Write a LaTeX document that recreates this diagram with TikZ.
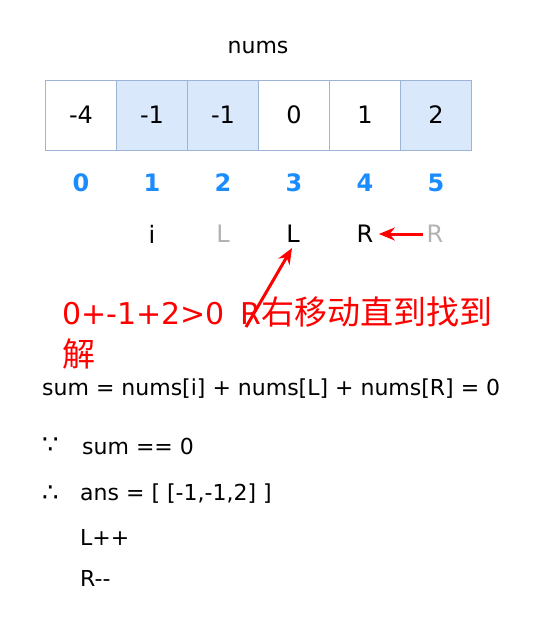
\documentclass[tikz,border=0pt]{standalone}
\usepackage{fontspec}
\setmainfont{DejaVu Sans}
\newfontfamily\cjk{Noto Sans CJK SC}
\usetikzlibrary{arrows.meta}
\definecolor{cellfill}{HTML}{DAE8FC}
\definecolor{celldraw}{HTML}{9DB4D6}
\definecolor{idxblue}{HTML}{1A8CFF}
\definecolor{oldgray}{HTML}{B3B3B3}
\definecolor{notered}{HTML}{FF0000}
\begin{document}
\begin{tikzpicture}
		[x=1pt,y=-1pt,
		cell/.style={draw=celldraw,fill=white,thick,
minimum width=71pt,minimum height=70pt,inner sep=0pt,font=\fontsize{24}{28}\selectfont},
		hcell/.style={cell,fill=cellfill},
		idx/.style={text=idxblue,font=\fontsize{24}{28}\selectfont\bfseries},
		ptr/.style={font=\fontsize{24}{28}\selectfont},
		oldptr/.style={ptr,text=oldgray},
		textstyle/.style={anchor=west,inner sep=0pt,font=\fontsize{22}{26}\selectfont},
		notestyle/.style={anchor=west,inner sep=0pt,text=notered,font=\fontsize{30}{40}\selectfont},
		movearrow/.style={-{Stealth[length=16pt,width=13pt]},notered,line width=3pt,shorten >=2pt}]
		\useasboundingbox (0,0) rectangle (557,635);
		\node at (258, 47) (title) [font=\fontsize{22}{26}\selectfont] {nums};
		% array cells
		\node at (81, 115) (c0) [cell] {-4};
		\node at (152, 115) (c1) [hcell] {-1};
		\node at (223, 115) (c2) [hcell] {-1};
		\node at (294, 115) (c3) [cell] {0};
		\node at (365, 115) (c4) [cell] {1};
		\node at (436, 115) (c5) [hcell] {2};
		% indices
		\node at (81, 183) (i0) [idx] {0};
		\node at (152, 183) (i1) [idx] {1};
		\node at (223, 183) (i2) [idx] {2};
		\node at (294, 183) (i3) [idx] {3};
		\node at (365, 183) (i4) [idx] {4};
		\node at (436, 183) (i5) [idx] {5};
		% pointers
		\node at (152, 234) (ptri) [ptr] {i};
		\node at (223, 234) (oldL) [oldptr] {L};
		\node at (293, 234) (ptrL) [ptr] {L};
		\node at (365, 234) (ptrR) [ptr] {R};
		\node at (435, 234) (oldR) [oldptr] {R};
		\draw[movearrow] (oldR) -- (ptrR);
		% note
		\node at (62, 312) (note1) [notestyle] {0+-1+2>0\hspace{16pt}R{\cjk\fontsize{33}{40}\selectfont 右移动直到找到}};
		\node at (62, 354) (note2) [notestyle] {\cjk\fontsize{33}{40}\selectfont 解};
		\coordinate (notetip) at (246, 327);
		\draw[movearrow] (notetip) -- (ptrL.south);
		% steps
		\node at (42, 389) (sum) [textstyle] {sum = nums[i] + nums[L] + nums[R] = 0};
		\node at (42, 446) (since) [textstyle,font=\fontsize{26}{28}\selectfont] {∵};
		\node at (82, 446) (cond) [textstyle] {sum == 0};
		\node at (42, 494) (hence) [textstyle,font=\fontsize{26}{28}\selectfont] {∴};
		\node at (80, 494) (ans) [textstyle] {ans = [ [-1,-1,2] ]};
		\node at (80, 537) (incL) [textstyle] {L++};
		\node at (80, 578) (decR) [textstyle] {R{-}{-}};
	\end{tikzpicture}
\end{document}
